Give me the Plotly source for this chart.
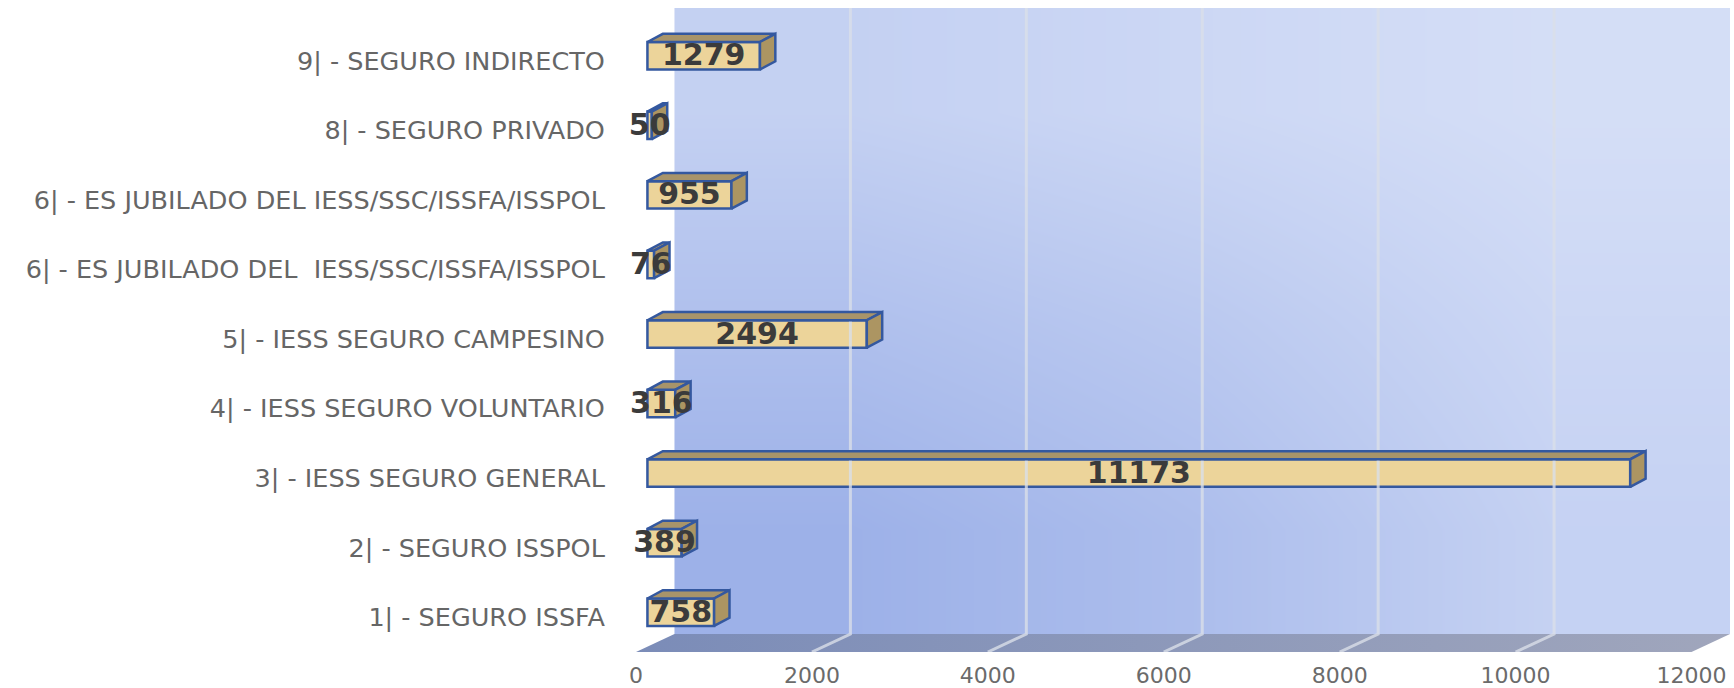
import plotly.graph_objects as go

categories = [
    "1| - SEGURO ISSFA",
    "2| - SEGURO ISSPOL",
    "3| - IESS SEGURO GENERAL",
    "4| - IESS SEGURO VOLUNTARIO",
    "5| - IESS SEGURO CAMPESINO",
    "6| - ES JUBILADO DEL \u00a0IESS/SSC/ISSFA/ISSPOL",
    "6| - ES JUBILADO DEL IESS/SSC/ISSFA/ISSPOL",
    "8| - SEGURO PRIVADO",
    "9| - SEGURO INDIRECTO",
]
values = [758, 389, 11173, 316, 2494, 76, 955, 50, 1279]
x_ticks = [0, 2000, 4000, 6000, 8000, 10000, 12000]

# Oblique projection of the pseudo-3D box, in axis units
WALL_DX = 437.5
WALL_DY = 0.2586
BAR_X0 = 130
BAR_DY = 0.072
BAR_H = 0.395
EXT_DX = 175
EXT_DY = 0.118
TEXT_DY = -0.03
Y0 = -0.5
Y1 = 8.5
X1 = x_ticks[-1]

EDGE = "#34589F"
FRONT = "#ECD49A"
SIDE = "#AC9562"
TOP = "#A8946A"

rows = list(range(len(categories)))
fig = go.Figure()

# back wall (cell edges, 3x3 colour grid for the diagonal wash)
wall_w = X1
wall_h = Y1 - Y0
fig.add_trace(go.Heatmap(
    x=[WALL_DX + wall_w * f for f in (0, 1 / 3, 2 / 3, 1)],
    y=[Y0 + WALL_DY + wall_h * f for f in (0, 1 / 3, 2 / 3, 1)],
    z=[[0.08, 0.33, 0.72], [0.37, 0.55, 0.83], [0.70, 0.83, 0.96]],
    zmin=0, zmax=1, zsmooth="best", showscale=False, hoverinfo="skip",
    colorscale=[[0, "#98ADE7"], [1, "#D7E0F7"]],
))

# floor
fig.add_trace(go.Scatter(
    x=[0, X1, X1 + WALL_DX, WALL_DX, 0],
    y=[Y0, Y0, Y0 + WALL_DY, Y0 + WALL_DY, Y0],
    mode="lines", line=dict(width=0), fill="toself",
    fillgradient=dict(type="horizontal", colorscale=[[0, "#7B8CB8"], [1, "#A0A6BC"]]),
    hoverinfo="skip", showlegend=False,
))

# gridlines on floor and wall
gx, gy = [], []
for t in x_ticks[1:-1]:
    gx += [t, t + WALL_DX, t + WALL_DX, None]
    gy += [Y0, Y0 + WALL_DY, Y1 + WALL_DY, None]
fig.add_trace(go.Scatter(
    x=gx, y=gy, mode="lines", line=dict(color="rgba(218,222,232,0.8)", width=3),
    hoverinfo="skip", showlegend=False,
))

# front faces
fig.add_trace(go.Bar(
    orientation="h",
    y=[r + BAR_DY for r in rows],
    x=values,
    base=[BAR_X0] * len(values),
    width=BAR_H,
    marker=dict(color=FRONT, line=dict(color=EDGE, width=2.5)),
    hoverinfo="skip", showlegend=False,
))

# top and side faces
tx, ty, sx, sy = [], [], [], []
for r, v in zip(rows, values):
    xl, xr = BAR_X0, BAR_X0 + v
    yb, yt = r + BAR_DY - BAR_H / 2, r + BAR_DY + BAR_H / 2
    tx += [xl, xr, xr + EXT_DX, xl + EXT_DX, xl, None]
    ty += [yt, yt, yt + EXT_DY, yt + EXT_DY, yt, None]
    sx += [xr, xr + EXT_DX, xr + EXT_DX, xr, xr, None]
    sy += [yb, yb + EXT_DY, yt + EXT_DY, yt, yb, None]
for px, py, col in ((tx, ty, TOP), (sx, sy, SIDE)):
    fig.add_trace(go.Scatter(
        x=px, y=py, mode="lines", fill="toself", fillcolor=col,
        line=dict(color=EDGE, width=2.5), hoverinfo="skip", showlegend=False,
    ))

# value labels
fig.add_trace(go.Scatter(
    x=[BAR_X0 + v / 2 for v in values],
    y=[r + BAR_DY + TEXT_DY for r in rows],
    mode="text", text=[str(v) for v in values], textposition="middle center",
    textfont=dict(family="DejaVu Sans", size=30, color="#3B3B3B", weight="bold"),
    cliponaxis=False, hoverinfo="skip", showlegend=False,
))

fig.update_layout(
    width=1734, height=688, autosize=False,
    margin=dict(l=635.5, r=4, t=7.6, b=36, autoexpand=False),
    paper_bgcolor="white", plot_bgcolor="white",
    showlegend=False, barmode="overlay",
    xaxis=dict(
        range=[0, X1 + WALL_DX], tickvals=x_ticks, ticktext=[str(t) for t in x_ticks],
        showgrid=False, zeroline=False, showline=False, automargin=False,
        ticks="outside", ticklen=4, tickcolor="rgba(0,0,0,0)",
        tickfont=dict(family="DejaVu Sans", size=22, color="#6B6B6B"),
    ),
    yaxis=dict(
        range=[Y0, Y1 + WALL_DY], tickvals=rows, ticktext=categories,
        showgrid=False, zeroline=False, showline=False, automargin=False,
        ticks="outside", ticklen=25, tickcolor="rgba(0,0,0,0)",
        tickfont=dict(family="DejaVu Sans", size=25.5, color="#666666"),
    ),
)

fig.write_html("out.html", config=dict(displayModeBar=False),
               post_script="document.body.style.margin='0';")
